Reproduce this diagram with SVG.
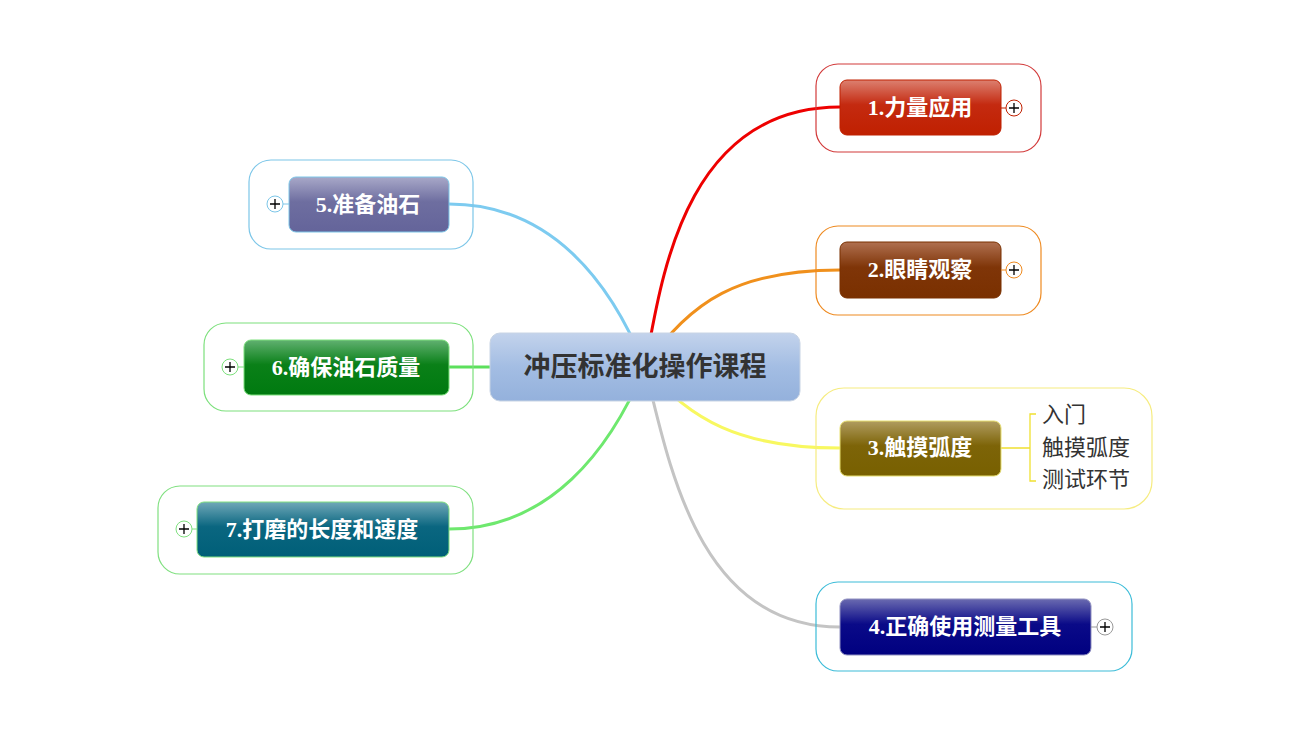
<svg xmlns="http://www.w3.org/2000/svg" width="1310" height="735" viewBox="0 0 1310 735">
<defs>
<linearGradient id="gc" x1="0" y1="0" x2="0" y2="1"><stop offset="0" stop-color="#c3d3ec"/><stop offset="0.5" stop-color="#a3bde3"/><stop offset="1" stop-color="#94b1dc"/></linearGradient>
<linearGradient id="g1" x1="0" y1="0" x2="0" y2="1"><stop offset="0" stop-color="#dc8070"/><stop offset="0.45" stop-color="#c42a10"/><stop offset="1" stop-color="#c02000"/></linearGradient>
<linearGradient id="g2" x1="0" y1="0" x2="0" y2="1"><stop offset="0" stop-color="#b07050"/><stop offset="0.45" stop-color="#7f3508"/><stop offset="1" stop-color="#7a3000"/></linearGradient>
<linearGradient id="g3" x1="0" y1="0" x2="0" y2="1"><stop offset="0" stop-color="#b09c60"/><stop offset="0.45" stop-color="#7d6408"/><stop offset="1" stop-color="#786000"/></linearGradient>
<linearGradient id="g4" x1="0" y1="0" x2="0" y2="1"><stop offset="0" stop-color="#6a6ab0"/><stop offset="0.45" stop-color="#0a0a88"/><stop offset="1" stop-color="#000080"/></linearGradient>
<linearGradient id="g5" x1="0" y1="0" x2="0" y2="1"><stop offset="0" stop-color="#a8a8c8"/><stop offset="0.45" stop-color="#6e6ea0"/><stop offset="1" stop-color="#64649a"/></linearGradient>
<linearGradient id="g6" x1="0" y1="0" x2="0" y2="1"><stop offset="0" stop-color="#60b070"/><stop offset="0.45" stop-color="#0a8018"/><stop offset="1" stop-color="#007a10"/></linearGradient>
<linearGradient id="g7" x1="0" y1="0" x2="0" y2="1"><stop offset="0" stop-color="#70a8b8"/><stop offset="0.45" stop-color="#0a6680"/><stop offset="1" stop-color="#005f78"/></linearGradient>
</defs>
<style>
.bd{fill:none;stroke-width:1.2}
.nt{font-family:"Liberation Serif","Noto Sans CJK SC",serif;font-weight:bold;font-size:22px;fill:#ffffff;text-anchor:middle;dominant-baseline:central}
.ct{font-family:"Liberation Serif","Noto Sans CJK SC",serif;font-weight:bold;font-size:27px;fill:#333333;text-anchor:middle;dominant-baseline:central}
.st{font-family:"Liberation Serif","Noto Sans CJK SC",serif;font-size:22px;fill:#333333;dominant-baseline:central}
.pc{fill:#ffffff;stroke-width:1}
.pl{stroke:#000;stroke-width:1.3}
.cn{fill:none;stroke-width:3;stroke-linecap:round}
</style>
<rect width="1310" height="735" fill="#ffffff"/>
<g id="connectors">
<path class="cn" stroke="#ee0000" d="M645 367 C660 290 680 107 840 107"/>
<path class="cn" stroke="#f0901c" d="M645 367 C690 300 740 270 840 270"/>
<path class="cn" stroke="#f8f860" d="M645 367 C690 420 740 448 840 448"/>
<path class="cn" stroke="#c4c4c4" d="M645 367 C670 470 700 627 840 627"/>
<path class="cn" stroke="#7dcbf0" d="M645 367 C610 280 550 204 449 204"/>
<path class="cn" stroke="#5ce05c" d="M645 367 L449 367"/>
<path class="cn" stroke="#6ee86e" d="M645 367 C610 450 550 529 449 529"/>
<path fill="none" stroke="#f0e030" stroke-width="1.3" d="M1001 448 H1030 M1036 414 H1030 V481 H1036"/>
</g>
<g id="node1">
<rect class="bd" x="816" y="64" width="225" height="88" rx="22" stroke="#d23a3a"/>
<rect x="840" y="80" width="161" height="55" rx="7" fill="url(#g1)" stroke="#c02000"/>
<text class="nt" x="920" y="107">1.力量应用</text>
<line x1="1001" y1="108" x2="1006" y2="108" stroke="#c02000"/>
<circle class="pc" cx="1014" cy="108" r="8" stroke="#c02000"/>
<path class="pl" d="M1009 108 H1019 M1014 103 V113"/>
</g>
<g id="node2">
<rect class="bd" x="816" y="226" width="225" height="89" rx="22" stroke="#ee8a20"/>
<rect x="840" y="242" width="161" height="56" rx="7" fill="url(#g2)" stroke="#7a3000"/>
<text class="nt" x="920" y="269">2.眼睛观察</text>
<line x1="1001" y1="270" x2="1006" y2="270" stroke="#ee8a20"/>
<circle class="pc" cx="1014" cy="270" r="8" stroke="#ee8a20"/>
<path class="pl" d="M1009 270 H1019 M1014 265 V275"/>
</g>
<g id="node3">
<rect class="bd" x="816" y="388" width="336" height="121" rx="28" stroke="#f6ec80"/>
<rect x="840" y="421" width="161" height="55" rx="7" fill="url(#g3)" stroke="#e8e070"/>
<text class="nt" x="920" y="447">3.触摸弧度</text>
<text class="st" x="1042" y="414">入门</text>
<text class="st" x="1042" y="447">触摸弧度</text>
<text class="st" x="1042" y="479">测试环节</text>
</g>
<g id="node4">
<rect class="bd" x="816" y="582" width="316" height="89" rx="22" stroke="#3cbcd8"/>
<rect x="840" y="599" width="251" height="56" rx="7" fill="url(#g4)" stroke="#9090c0"/>
<text class="nt" x="965" y="626">4.正确使用测量工具</text>
<line x1="1091" y1="627" x2="1097" y2="627" stroke="#999"/>
<circle class="pc" cx="1105" cy="627" r="8" stroke="#999"/>
<path class="pl" d="M1100 627 H1110 M1105 622 V632"/>
</g>
<g id="node5">
<rect class="bd" x="249" y="160" width="224" height="89" rx="22" stroke="#7cc6e8"/>
<rect x="289" y="177" width="160" height="55" rx="7" fill="url(#g5)" stroke="#7cc6e8"/>
<text class="nt" x="368" y="204">5.准备油石</text>
<line x1="283" y1="204" x2="289" y2="204" stroke="#7cc6e8"/>
<circle class="pc" cx="275" cy="204" r="8" stroke="#7cc6e8"/>
<path class="pl" d="M270 204 H280 M275 199 V209"/>
</g>
<g id="node6">
<rect class="bd" x="204" y="323" width="269" height="88" rx="22" stroke="#7ce07c"/>
<rect x="244" y="340" width="205" height="55" rx="7" fill="url(#g6)" stroke="#7ce07c"/>
<text class="nt" x="346" y="367">6.确保油石质量</text>
<line x1="238" y1="367" x2="244" y2="367" stroke="#7ce07c"/>
<circle class="pc" cx="230" cy="367" r="8" stroke="#7ce07c"/>
<path class="pl" d="M225 367 H235 M230 362 V372"/>
</g>
<g id="node7">
<rect class="bd" x="158" y="486" width="315" height="88" rx="22" stroke="#80e080"/>
<rect x="197" y="502" width="252" height="55" rx="7" fill="url(#g7)" stroke="#80e080"/>
<text class="nt" x="322" y="529">7.打磨的长度和速度</text>
<line x1="192" y1="529" x2="197" y2="529" stroke="#80e080"/>
<circle class="pc" cx="184" cy="529" r="8" stroke="#80e080"/>
<path class="pl" d="M179 529 H189 M184 524 V534"/>
</g>
<g id="center">
<rect x="490" y="333" width="310" height="68" rx="10" fill="url(#gc)" stroke="#c8d4e4"/>
<text class="ct" x="645" y="367">冲压标准化操作课程</text>
</g>
</svg>
